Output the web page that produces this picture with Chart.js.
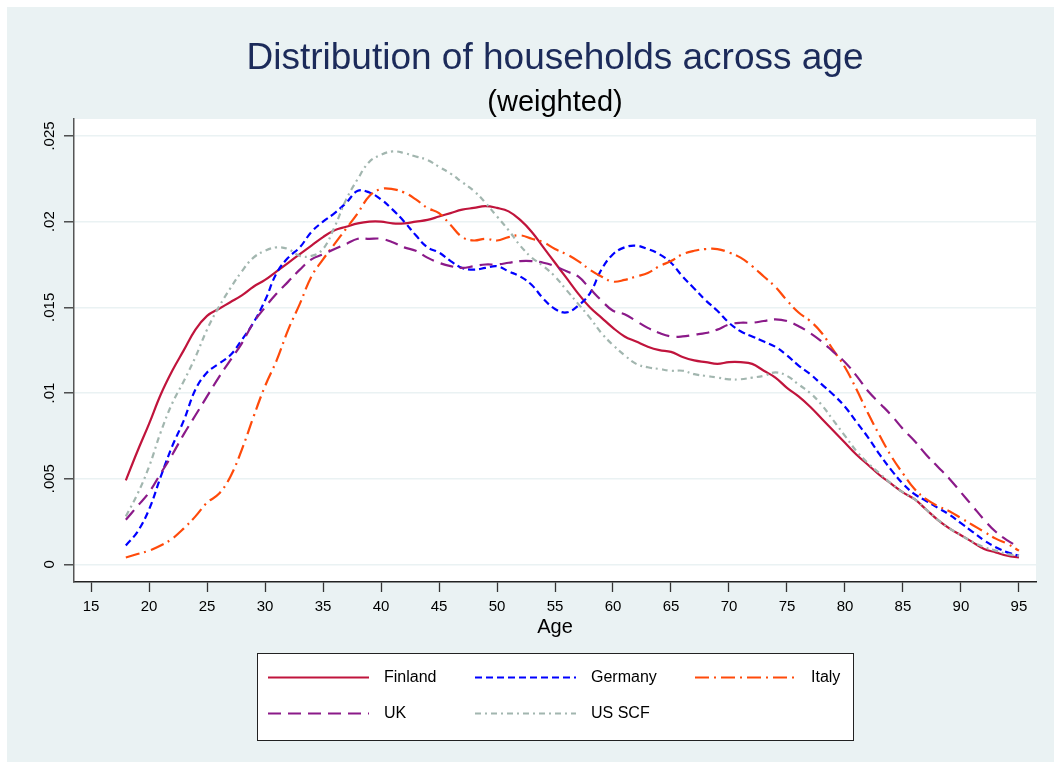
<!DOCTYPE html>
<html>
<head>
<meta charset="utf-8">
<title>Distribution of households across age</title>
<script src="https://cdn.jsdelivr.net/npm/chart.js@4.4.1/dist/chart.umd.min.js"></script>
<style>
  html, body { margin: 0; padding: 0; background: #fff; }
  canvas { display: block; }
</style>
</head>
<body>
<canvas id="ageChart" width="1054" height="769"></canvas>
<script>
// Household age distribution (weighted), five surveys

const ages = [18, 19, 20, 21, 22, 23, 24, 25, 26, 27, 28, 29, 30, 31, 32, 33, 34, 35, 36, 37,
              38, 39, 40, 41, 42, 43, 44, 45, 46, 47, 48, 49, 50, 51, 52, 53, 54, 55, 56, 57,
              58, 59, 60, 61, 62, 63, 64, 65, 66, 67, 68, 69, 70, 71, 72, 73, 74, 75, 76, 77,
              78, 79, 80, 81, 82, 83, 84, 85, 86, 87, 88, 89, 90, 91, 92, 93, 94, 95];

const finland = [.0049, .0066, .0082, .0099, .0113, .0125, .0137, .0145, .0149, .0153, .0157, .0162, .0166, .0171, .0176, .0181, .0186, .0191, .0195, .0197,
                 .0199, .0200, .0200, .0199, .0199, .0200, .0201, .0203, .0205, .0207, .0208, .0209, .0208, .0206, .0201, .0194, .0185, .0176, .0167, .0158,
                 .0150, .0144, .0138, .0133, .0130, .0127, .0125, .0124, .0121, .0119, .0118, .0117, .0118, .0118, .0117, .0113, .0109, .0103, .0098, .0092,
                 .0085, .0078, .0071, .0064, .0058, .0052, .0047, .0042, .0038, .0032, .0026, .0021, .0017, .0013, .0009, .0007, .0005, .0004];

const germany = [.0011, .0019, .0032, .0051, .0069, .0084, .0102, .0112, .0117, .0122, .0131, .0141, .0154, .0170, .0179, .0185, .0194, .0200, .0205, .0211,
                 .0218, .0217, .0213, .0207, .0200, .0192, .0185, .0182, .0177, .0173, .0172, .0173, .0174, .0171, .0168, .0163, .0155, .0149, .0147, .0151,
                 .0158, .0172, .0181, .0185, .0186, .0184, .0181, .0176, .0168, .0161, .0154, .0148, .0141, .0136, .0133, .0130, .0127, .0122, .0116, .0111,
                 .0105, .0099, .0092, .0083, .0074, .0064, .0055, .0047, .0041, .0037, .0033, .0029, .0024, .0019, .0014, .0010, .0007, .0005];

const italy = [.0004, .0006, .0008, .0011, .0015, .0021, .0028, .0036, .0041, .0051, .0067, .0086, .0104, .0119, .0137, .0152, .0168, .0178, .0187, .0196,
               .0205, .0215, .0219, .0219, .0217, .0213, .0208, .0205, .0198, .0191, .0189, .0190, .0189, .0191, .0192, .0190, .0188, .0184, .0181, .0177,
               .0172, .0168, .0165, .0166, .0168, .0170, .0174, .0177, .0181, .0183, .0184, .0184, .0182, .0179, .0174, .0168, .0162, .0154, .0147, .0142,
               .0135, .0125, .0115, .0102, .0088, .0075, .0063, .0053, .0044, .0038, .0034, .0031, .0027, .0023, .0019, .0015, .0012, .0008];

const uk = [.0026, .0034, .0042, .0053, .0064, .0076, .0087, .0098, .0109, .0119, .0129, .0141, .0150, .0158, .0165, .0172, .0178, .0181, .0184, .0187,
            .0190, .0190, .0190, .0188, .0185, .0183, .0179, .0176, .0174, .0173, .0174, .0175, .0175, .0176, .0177, .0177, .0176, .0174, .0171, .0168,
            .0161, .0154, .0148, .0146, .0142, .0138, .0135, .0133, .0133, .0134, .0135, .0137, .0140, .0141, .0141, .0142, .0143, .0142, .0139, .0135,
            .0130, .0124, .0118, .0110, .0101, .0094, .0087, .0079, .0072, .0064, .0057, .0050, .0042, .0034, .0026, .0019, .0014, .0010];

const usScf = [.0028, .0041, .0057, .0077, .0094, .0107, .0121, .0137, .0150, .0161, .0171, .0179, .0183, .0185, .0184, .0180, .0180, .0184, .0197, .0213,
               .0225, .0235, .0239, .0241, .0240, .0238, .0236, .0232, .0228, .0223, .0218, .0211, .0203, .0195, .0186, .0179, .0174, .0168, .0160, .0152,
               .0144, .0135, .0128, .0122, .0117, .0115, .0114, .0113, .0113, .0111, .0110, .0109, .0108, .0108, .0109, .0110, .0112, .0110, .0105, .0100,
               .0093, .0084, .0075, .0066, .0059, .0053, .0047, .0042, .0038, .0032, .0026, .0021, .0017, .0013, .0010, .0008, .0006, .0005];

const seriesNames = ['Finland', 'Germany', 'Italy', 'UK', 'US SCF'];
const xTicks = [15, 20, 25, 30, 35, 40, 45, 50, 55, 60, 65, 70, 75, 80, 85, 90, 95];
const yTicks = [0, .005, .01, .015, .02, .025];
const yTickLabels = ['0', '.005', '.01', '.015', '.02', '.025'];

const FONT = "'Liberation Sans', Arial, Helvetica, sans-serif";
const PANEL_BG = '#EAF2F3';

function toPoints(values) {
    return ages.map((a, i) => ({ x: a, y: values[i] }));
}

const styles = [
    { color: '#C0143C', dash: [] },
    { color: '#0000FF', dash: [7, 4] },
    { color: '#FF4A0A', dash: [14, 5, 2, 5] },
    { color: '#8B1A89', dash: [13, 7] },
    { color: '#A2B6AF', dash: [6, 4, 2, 4] }
];

const allSeries = [finland, germany, italy, uk, usScf];

// background panel + white plot region
const backdropPlugin = {
    id: 'backdrop',
    beforeDraw(chart) {
        const { ctx, chartArea } = chart;
        ctx.save();
        ctx.fillStyle = '#fff';
        ctx.fillRect(0, 0, chart.width, chart.height);
        ctx.fillStyle = PANEL_BG;
        ctx.fillRect(7, 7, chart.width - 7, chart.height - 14);
        ctx.fillStyle = '#fff';
        ctx.fillRect(chartArea.left, chartArea.top,
                     chartArea.right - chartArea.left, chartArea.bottom - chartArea.top);
        ctx.restore();
    }
};

// Stata-like boxed legend, 3 columns
const boxLegendPlugin = {
    id: 'boxLegend',
    afterDraw(chart) {
        const ctx = chart.ctx;
        const box = { x: 257, y: 653, w: 596, h: 87 };
        const sampleX = [268, 475, 695];
        const labelX = [384, 591, 811];
        const rowY = [677.5, 713.5];
        const sampleLen = 101;

        ctx.save();
        ctx.fillStyle = '#fff';
        ctx.fillRect(box.x, box.y, box.w, box.h);
        ctx.strokeStyle = '#222';
        ctx.lineWidth = 1;
        ctx.strokeRect(box.x + 0.5, box.y + 0.5, box.w, box.h);

        chart.data.datasets.forEach((ds, i) => {
            const col = i % 3;
            const row = Math.floor(i / 3);
            const y = rowY[row];
            ctx.beginPath();
            ctx.setLineDash(ds.borderDash || []);
            ctx.strokeStyle = ds.borderColor;
            ctx.lineWidth = ds.borderWidth;
            ctx.moveTo(sampleX[col], y);
            ctx.lineTo(sampleX[col] + sampleLen, y);
            ctx.stroke();
            ctx.setLineDash([]);
            ctx.fillStyle = '#000';
            ctx.font = '16px ' + FONT;
            ctx.textBaseline = 'middle';
            ctx.textAlign = 'left';
            ctx.fillText(ds.label, labelX[col], y);
        });
        ctx.restore();
    }
};

const datasets = allSeries.map((vals, i) => ({
    label: seriesNames[i],
    data: toPoints(vals),
    borderColor: styles[i].color,
    backgroundColor: styles[i].color,
    borderDash: styles[i].dash,
    borderWidth: 2.2,
    pointRadius: 0,
    tension: 0.4,
    fill: false,
    order: allSeries.length - i
}));

new Chart(document.getElementById('ageChart'), {
    type: 'line',
    data: { datasets: datasets },
    options: {
        responsive: false,
        animation: false,
        devicePixelRatio: 1,
        layout: { padding: { top: 0, left: 0, right: 18, bottom: 127 } },
        plugins: {
            legend: { display: false },
            tooltip: { enabled: false },
            title: {
                display: true,
                fullSize: false,
                text: 'Distribution of households across age',
                color: '#1C2B5A',
                font: { family: FONT, size: 37, weight: 'normal', lineHeight: 1.1 },
                padding: { top: 38.6, bottom: 0 }
            },
            subtitle: {
                display: true,
                fullSize: false,
                text: '(weighted)',
                color: '#000',
                font: { family: FONT, size: 29, weight: 'normal', lineHeight: 1.0 },
                padding: { top: 9.2, bottom: 1.5 }
            }
        },
        scales: {
            x: {
                type: 'linear',
                min: 13.53,
                max: 96.47,
                afterFit: s => { s.height = 60; },
                afterBuildTicks: s => { s.ticks = xTicks.map(v => ({ value: v })); },
                grid: {
                    drawOnChartArea: false,
                    drawTicks: true,
                    tickLength: 10,
                    tickColor: '#333',
                    tickWidth: 1.3
                },
                border: { color: '#222', width: 1.5 },
                ticks: {
                    color: '#000',
                    padding: 6,
                    maxRotation: 0,
                    autoSkip: false,
                    font: { family: FONT, size: 15 },
                    callback: v => String(v)
                },
                title: {
                    display: true,
                    text: 'Age',
                    color: '#000',
                    font: { family: FONT, size: 20 },
                    padding: { top: 0, bottom: 3 }
                }
            },
            y: {
                type: 'linear',
                min: -0.00103,
                max: 0.02599,
                afterFit: s => { s.width = 74; },
                afterBuildTicks: s => { s.ticks = yTicks.map(v => ({ value: v })); },
                grid: {
                    color: PANEL_BG,
                    lineWidth: 1.6,
                    drawTicks: true,
                    tickLength: 10,
                    tickColor: '#333',
                    tickWidth: 1.3
                },
                border: { color: '#555', width: 1.5 },
                ticks: {
                    color: '#000',
                    padding: 0,
                    minRotation: 90,
                    maxRotation: 90,
                    crossAlign: 'center',
                    autoSkip: false,
                    font: { family: FONT, size: 15 },
                    callback: (v, i) => yTickLabels[i]
                }
            }
        }
    },
    plugins: [backdropPlugin, boxLegendPlugin]
});
</script>
</body>
</html>
